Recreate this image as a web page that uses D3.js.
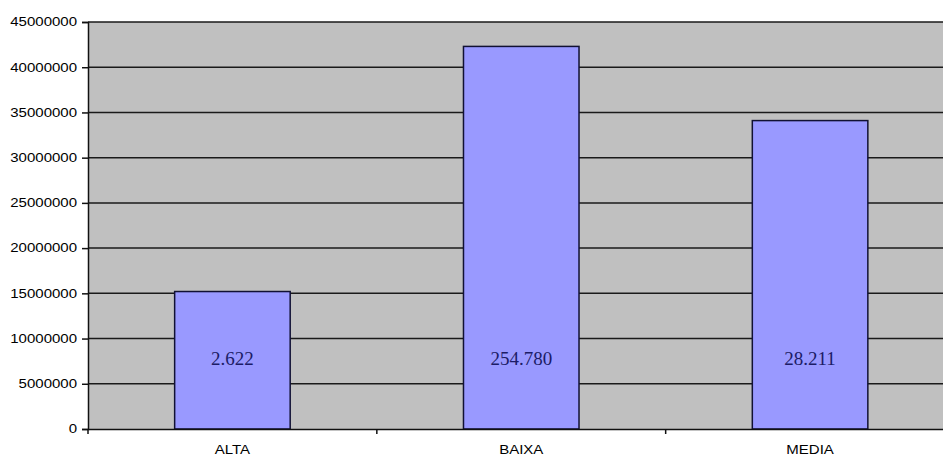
<!DOCTYPE html>
<html>
<head>
<meta charset="utf-8">
<script src="https://cdn.jsdelivr.net/npm/d3@7"></script>
<style>
  html, body { margin: 0; padding: 0; background: #ffffff; overflow: hidden; }
  svg { display: block; }
</style>
</head>
<body>
<svg id="chart" width="943" height="457"></svg>
<script>
const categories = ["ALTA", "BAIXA", "MEDIA"];
const values = [15200000, 42300000, 34100000];
const barLabels = ["2.622", "254.780", "28.211"];
const yTicks = [0, 5000000, 10000000, 15000000, 20000000, 25000000, 30000000, 35000000, 40000000, 45000000];

(function () {
const svg = d3.select("#chart");
const pLeft = 88, pRight = 954.5, pTop = 22, pBottom = 429;
const sx = 1.25; // horizontal stretch of sans-serif text

const x = d3.scaleBand().domain(categories).range([pLeft, pRight]).paddingInner(0.6).paddingOuter(0.3);
const y = d3.scaleLinear().domain([0, 45000000]).range([pBottom, pTop]);

// plot background
svg.append("rect").attr("x", pLeft).attr("y", pTop)
  .attr("width", pRight - pLeft).attr("height", pBottom - pTop)
  .attr("fill", "#c0c0c0");

// gridlines
svg.append("g").selectAll("line").data(yTicks.filter(d => d > 0)).join("line")
  .attr("x1", pLeft).attr("x2", pRight)
  .attr("y1", d => y(d)).attr("y2", d => y(d))
  .attr("stroke", "#1a1a1a").attr("stroke-width", 1.5);

// bars
svg.append("g").selectAll("rect").data(categories).join("rect")
  .attr("x", d => x(d))
  .attr("y", (d, i) => y(values[i]))
  .attr("width", x.bandwidth())
  .attr("height", (d, i) => y(0) - y(values[i]))
  .attr("fill", "#9999ff")
  .attr("stroke", "#111133").attr("stroke-width", 1.5);

// labels inside bars
svg.append("g").selectAll("text").data(categories).join("text")
  .attr("x", d => x(d) + x.bandwidth() / 2)
  .attr("y", 364.5)
  .attr("text-anchor", "middle")
  .attr("font-family", "'Liberation Serif', 'Times New Roman', serif")
  .attr("font-size", 19)
  .attr("fill", "#1c1c66")
  .text((d, i) => barLabels[i]);

// y axis
const yAxis = svg.append("g").attr("transform", `translate(${pLeft},0)`)
  .call(d3.axisLeft(y).tickValues(yTicks).tickFormat(d3.format("d")).tickSize(6).tickPadding(5));
yAxis.select(".domain").attr("stroke", "#111").attr("stroke-width", 1.5);
yAxis.selectAll(".tick line").attr("stroke", "#111").attr("stroke-width", 1.5);
yAxis.selectAll(".tick text")
  .attr("font-family", "'Liberation Sans', Arial, sans-serif")
  .attr("font-size", 12)
  .attr("fill", "#000")
  .attr("x", null)
  .attr("transform", `translate(-11,0) scale(${sx},1)`);

// x axis
const xAxis = svg.append("g").attr("transform", `translate(0,${pBottom})`)
  .call(d3.axisBottom(x).tickSize(0).tickPadding(0));
xAxis.select(".domain").attr("stroke", "#111").attr("stroke-width", 1.5);
xAxis.selectAll(".tick text")
  .attr("font-family", "'Liberation Sans', Arial, sans-serif")
  .attr("font-size", 12)
  .attr("fill", "#000")
  .attr("y", null).attr("dy", null)
  .attr("transform", `translate(0,25) scale(${sx},1)`);

// category boundary ticks
const step = x.step();
const bounds = categories.map((d, i) => pLeft + i * step).concat([pLeft + categories.length * step]);
svg.append("g").selectAll("line").data(bounds).join("line")
  .attr("x1", d => d).attr("x2", d => d)
  .attr("y1", pBottom).attr("y2", pBottom + 5)
  .attr("stroke", "#111").attr("stroke-width", 1.5);
})();
</script>
</body>
</html>
